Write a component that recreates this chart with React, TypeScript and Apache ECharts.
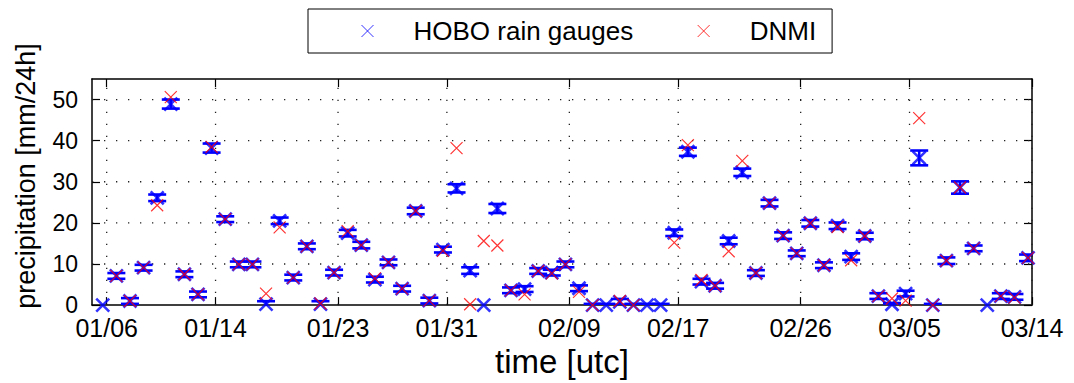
import React, { useEffect, useRef } from "react";
import * as echarts from "echarts";

// x positions are days relative to 01/06 00:00 (leap year, 2012)
const tickDays = [0, 8, 17, 25, 34, 42, 51, 59, 68];
const tickLabels = ["01/06", "01/14", "01/23", "01/31", "02/09", "02/17", "02/26", "03/05", "03/14"];
const yTicks = [0, 10, 20, 30, 40, 50];
const firstValueDay = -0.29; // first daily value sits just before 01/06

const hobo = [
  0, 7.1, 1.0, 9.1, 26.1, 48.9, 7.5, 2.6, 38.2, 20.9,
  9.9, 9.9, 0.25, 20.5, 6.7, 14.3, 0.25, 7.9, 17.5, 14.6,
  6.2, 10.4, 4.0, 22.9, 1.1, 13.5, 28.4, 8.4, 0, 23.5,
  3.6, 3.9, 8.3, 7.9, 9.9, 4.1, 0, 0, 0.8, 0,
  0, 0, 17.6, 37.3, 5.7, 4.7, 15.6, 32.3, 7.8, 24.8,
  16.9, 12.6, 19.9, 9.7, 19.3, 11.8, 16.8, 2.2, 0.2, 2.8,
  35.8, 0, 10.8, 28.6, 13.8, 0, 2.2, 2.0, 11.5,
];

const hoboErr = [
  0, 0.7, 0.7, 0.7, 0.8, 1.1, 0.7, 0.7, 1.1, 0.7,
  0.7, 0.7, 0.7, 0.8, 0.7, 0.7, 0.7, 0.7, 0.8, 0.8,
  0.7, 0.7, 0.7, 0.8, 0.7, 0.7, 1.0, 0.8, 0, 1.1,
  0.7, 0.7, 0.7, 0.7, 0.7, 0.7, 0.3, 0.3, 0.7, 0.3,
  0.3, 0.3, 0.8, 1.0, 0.7, 0.7, 0.8, 0.9, 0.7, 0.8,
  0.8, 0.7, 0.8, 0.7, 0.8, 0.8, 0.8, 0.7, 0.3, 0.7,
  1.8, 0.3, 0.8, 1.5, 0.7, 0, 0.7, 0.7, 0.8,
];

const dnmi: (number | null)[] = [
  null, 7.1, 1.0, 9.1, 24.3, 50.6, 7.5, 2.6, 38.5, 20.9,
  9.9, 9.9, 2.8, 18.9, 6.7, 14.3, 0.4, 7.9, 18.0, 14.6,
  6.5, 10.4, 4.0, 22.9, 1.1, 13.2, 38.2, 0.2, 15.6, 14.5,
  3.6, 2.6, 8.3, 7.7, 9.9, 3.2, 0, null, 1.0, 0,
  null, null, 15.2, 38.9, 6.1, 4.7, 13.1, 35.1, 7.8, 24.8,
  16.9, 12.6, 19.9, 9.7, 19.0, 10.9, 16.8, 2.2, 1.6, 1.1,
  45.5, 0, 10.8, 28.6, 13.8, null, 2.2, 1.8, 11.5,
];

const yTitle = "precipitation [mm/24h]";

const BLUE = "#0000ff";
const RED = "#ff0000";
const X_PATH = "path://M0,0L10,10M10,0L0,10";
const FONT = "'Liberation Sans', Arial, Helvetica, sans-serif";

export default function App() {
  const ref = useRef<HTMLDivElement>(null);

  useEffect(() => {
    if (!ref.current) return;
    const chart = echarts.init(ref.current, null, { renderer: "svg" });
    const xMin = -1.08;
    const xMax = 68;
    const yMax = 55;
    const xs = hobo.map((_, i) => firstValueDay + i);

    const xAxisBase = {
      type: "value",
      min: xMin,
      max: xMax,
      splitLine: { show: false },
      axisLine: { show: true, onZero: false, lineStyle: { color: "#000", width: 1.5 } },
      axisTick: { show: true, inside: true, length: 8, customValues: tickDays, lineStyle: { color: "#000", width: 1.2 } },
    };
    const yAxisBase = {
      type: "value",
      min: 0,
      max: yMax,
      interval: 10,
      splitLine: { show: false },
      axisLine: { show: true, onZero: false, lineStyle: { color: "#000", width: 1.5 } },
      axisTick: { show: true, inside: true, length: 8, customValues: yTicks, lineStyle: { color: "#000", width: 1.2 } },
    };

    const gridDot = { stroke: "#222", lineWidth: 1.3, lineDash: [1.3, 10.7] };

    chart.setOption({
      animation: false,
      color: [BLUE, RED],
      textStyle: { fontFamily: FONT },
      grid: { left: 92, top: 79, width: 940, height: 227, containLabel: false },
      legend: {
        left: 308,
        top: 9,
        orient: "horizontal",
        borderColor: "#000",
        borderWidth: 1,
        backgroundColor: "#fff",
        padding: [9, 16, 9, 53],
        itemGap: 64,
        itemWidth: 12,
        itemHeight: 12,
        itemStyle: { borderWidth: 1 },
        textStyle: { fontSize: 26, color: "#000", fontFamily: FONT, padding: [0, 0, 0, 35] },
        data: [
          { name: "HOBO rain gauges", icon: X_PATH },
          { name: "DNMI", icon: X_PATH },
        ],
      },
      graphic: [
        {
          type: "text",
          x: 26,
          y: 176,
          rotation: Math.PI / 2,
          style: {
            text: yTitle,
            fontSize: 27,
            fontFamily: FONT,
            fill: "#000",
            align: "center",
            verticalAlign: "middle",
            textAlign: "center",
            textVerticalAlign: "middle",
          },
        },
      ],
      xAxis: [
        {
          ...xAxisBase,
          position: "bottom",
          name: "time [utc]",
          nameLocation: "middle",
          nameGap: 35,
          nameTextStyle: { fontSize: 33, color: "#000", fontFamily: FONT },
          axisLabel: {
            customValues: tickDays,
            formatter: (v: number) => tickLabels[tickDays.indexOf(Math.round(v))] ?? "",
            fontSize: 25,
            color: "#000",
            margin: 10,
            fontFamily: FONT,
          },
        },
        { ...xAxisBase, position: "top", axisLabel: { show: false } },
      ],
      yAxis: [
        {
          ...yAxisBase,
          position: "left",
          axisLabel: { customValues: yTicks, fontSize: 23, color: "#000", margin: 14, fontFamily: FONT },
        },
        { ...yAxisBase, position: "right", axisLabel: { show: false } },
      ],
      series: [
        {
          name: "vgrid",
          type: "custom",
          xAxisIndex: 0,
          yAxisIndex: 0,
          silent: true,
          z: 1,
          encode: { x: 0, y: 1 },
          data: tickDays.map((d) => [d, 0]),
          renderItem: (params: any, api: any) => {
            const d = api.value(0);
            const p0 = api.coord([d, 0]);
            const p1 = api.coord([d, yMax]);
            return { type: "line", shape: { x1: p0[0], y1: p0[1], x2: p1[0], y2: p1[1] }, style: gridDot };
          },
        },
        {
          name: "hgrid",
          type: "custom",
          xAxisIndex: 0,
          yAxisIndex: 0,
          silent: true,
          z: 1,
          encode: { x: 0, y: 1 },
          data: yTicks.filter((v) => v > 0).map((v) => [xMin, v]),
          renderItem: (params: any, api: any) => {
            const v = api.value(1);
            const p0 = api.coord([xMin, v]);
            const p1 = api.coord([xMax, v]);
            return { type: "line", shape: { x1: p0[0], y1: p0[1], x2: p1[0], y2: p1[1] }, style: gridDot };
          },
        },
        {
          name: "HOBO error",
          type: "custom",
          xAxisIndex: 0,
          yAxisIndex: 0,
          clip: true,
          z: 2,
          encode: { x: 0, y: 1 },
          data: hobo.map((v, i) => [xs[i], v, hoboErr[i]]),
          renderItem: (params: any, api: any) => {
            const x = api.value(0);
            const v = api.value(1);
            const e = api.value(2);
            if (!(e > 0)) return { type: "group", children: [] };
            const hi = api.coord([x, v + e]);
            const lo = api.coord([x, v - e]);
            const hw = 9;
            const st = { stroke: BLUE, lineWidth: 2.6, fill: null };
            return {
              type: "group",
              children: [
                { type: "line", shape: { x1: hi[0], y1: hi[1], x2: lo[0], y2: lo[1] }, style: st },
                { type: "line", shape: { x1: hi[0] - hw, y1: hi[1], x2: hi[0] + hw, y2: hi[1] }, style: st },
                { type: "line", shape: { x1: lo[0] - hw, y1: lo[1], x2: lo[0] + hw, y2: lo[1] }, style: st },
              ],
            };
          },
        },
        {
          name: "HOBO rain gauges",
          type: "scatter",
          xAxisIndex: 0,
          yAxisIndex: 0,
          z: 3,
          symbol: X_PATH,
          symbolSize: 13,
          color: BLUE,
          itemStyle: { color: "rgba(0,0,0,0)", borderColor: BLUE, borderWidth: 2.6 },
          data: hobo.map((v, i) => [xs[i], v]),
        },
        {
          name: "DNMI",
          type: "scatter",
          xAxisIndex: 0,
          yAxisIndex: 0,
          z: 4,
          symbol: X_PATH,
          symbolSize: 12,
          color: RED,
          itemStyle: { color: "rgba(0,0,0,0)", borderColor: RED, borderWidth: 1.2 },
          data: dnmi
            .map((v, i) => (v === null ? null : [xs[i], v]))
            .filter((p) => p !== null),
        },
      ],
    });

    return () => chart.dispose();
  }, []);

  return (
    <div
      ref={ref}
      style={{ position: "fixed", left: 0, top: 0, width: 1074, height: 383, background: "#fff" }}
    />
  );
}
